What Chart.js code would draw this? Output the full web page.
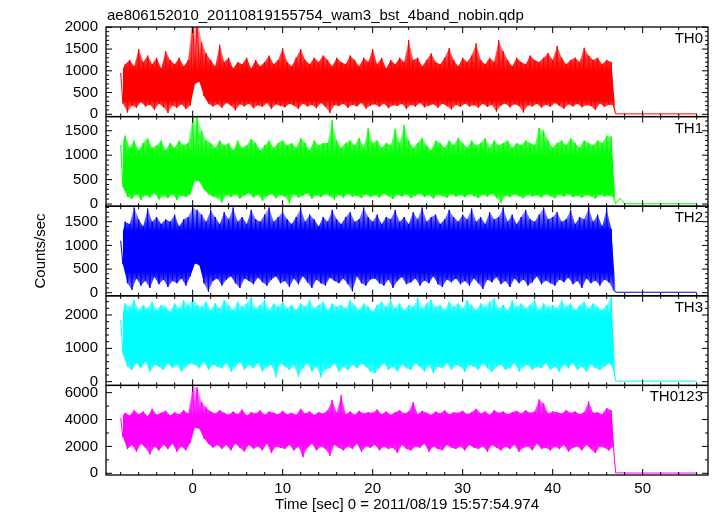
<!DOCTYPE html>
<html>
<head>
<meta charset="utf-8">
<script src="https://cdn.jsdelivr.net/npm/chart.js@4.4.0/dist/chart.umd.min.js"></script>
<style>
html, body { margin: 0; padding: 0; background: #fff; }
#wrap { width: 717px; height: 516px; }
</style>
</head>
<body>
<div id="wrap"><canvas id="lc" width="717" height="516"></canvas></div>
<script>
var fileTitle = "ae806152010_20110819155754_wam3_bst_4band_nobin.qdp";
var xTitle = "Time [sec] 0 = 2011/08/19 15:57:54.974";
var yTitle = "Counts/sec";
var bandNames = ["TH0", "TH1", "TH2", "TH3", "TH0123"];
var bandRGB = ["255,0,0", "0,255,0", "0,0,255", "0,255,255", "255,0,255"];

// time bins (sec): each bin keeps the highest and lowest rate seen in it
var binStart = -8.0;
var binStep = 0.5;
var xTickLabels = [0, 10, 20, 30, 40, 50];
var xMinor = 2;
var xRange = [-9.63, 57.26];

// y axes per panel
var yTicks = [[0, 500, 1000, 1500, 2000], [0, 500, 1000, 1500], [0, 500, 1000, 1500], [0, 1000, 2000], [0, 2000, 4000, 6000]];
var yMinor = [100, 100, 100, 200, 1000];
var yMin = [-53, -45, -65, -111, -127];
var yMax = [2007, 1790, 1828, 2576, 6540];

// where the dense part of each band sits (counts/sec)
var coreLo = [330, 250, 450, 650, 2300];
var coreHi = [980, 950, 1300, 2000, 4200];

var th0Hi = [950,1150,1250,1100,1500,1200,1350,1150,1300,1050,1450,1250,1150,1300,1100,1250,
  2300,2250,1650,1400,1250,1100,
  1600,1200,1300,1050,1200,1150,1300,1050,1250,1100,1200,1350,1150,1250,
  1520,1200,1100,1300,1500,1250,1150,1300,1200,1350,1250,1100,1300,1200,1150,1350,1250,1100,1300,1200,
  1500,1150,1300,1050,1250,1150,1300,1200,1710,1250,1300,1100,1250,1400,1200,1150,1300,1520,1250,1100,
  1300,1200,1350,1630,1250,1150,1300,1200,1710,1450,1250,1100,1300,1200,1150,1350,1250,1200,1300,1410,
  1250,1570,1300,1150,1250,1300,1200,1530,1350,1250,1300,1150,1250,1200];
var th0Lo = [250,40,200,150,280,180,220,100,250,160,30,200,150,230,120,200,
  700,750,420,250,180,230,
  150,260,200,90,230,180,250,140,210,170,260,120,230,190,
  160,240,200,120,250,180,220,140,260,170,30,210,190,240,150,220,180,260,130,200,
  230,170,250,140,210,190,240,120,220,180,260,160,200,230,150,240,190,110,220,170,
  250,180,210,150,240,170,220,60,200,250,160,230,190,40,210,180,240,150,220,170,
  260,190,130,230,180,240,160,210,190,100,250,170,220,200];

var th1Hi = [1210,1400,1150,1300,1100,1250,1350,1150,1200,1300,1100,1250,1150,1300,1200,1250,
  1780,1780,1500,1300,1250,1150,
  1300,1200,1250,1100,1300,1150,1200,1330,1250,1100,1200,1300,1150,1250,
  1300,1200,1250,1150,1350,1250,1100,1300,1200,1250,1250,1720,1300,1150,1250,1300,1200,1350,1150,1550,
  1250,1300,1150,1250,1200,1540,1250,1620,1300,1150,1250,1350,1200,1100,1300,1250,1150,1300,1200,1350,
  1250,1150,1300,1200,1250,1350,1150,1300,1200,1250,1300,1150,1250,1200,1300,1250,1200,1560,1500,1300,
  1150,1250,1300,1200,1350,1250,1150,1300,1250,1200,1300,1250,1400,1380];
var th1Lo = [350,150,100,200,80,180,130,220,90,160,120,200,80,170,140,200,
  480,460,300,200,150,120,
  30,180,140,200,110,170,220,130,190,60,160,210,120,180,
  150,10,200,130,170,220,110,180,140,200,160,90,190,130,210,150,170,120,200,140,
  180,130,210,160,100,190,150,200,120,170,210,140,180,110,190,160,130,200,150,180,
  140,200,160,120,190,150,210,130,20,170,140,200,160,120,190,150,180,130,200,160,
  120,190,150,200,140,170,130,180,160,110,190,150,170,140];

var th2Hi = [1100,1500,1450,1800,1550,1400,1780,1500,1600,1450,1550,1500,1650,1400,1550,1600,
  1800,1750,1650,1500,1750,1600,
  1450,1700,1550,1800,1500,1600,1450,1750,1550,1500,1650,1800,1500,1600,
  1700,1550,1450,1600,1780,1500,1650,1550,1400,1600,1500,1750,1550,1450,1600,1700,1500,1550,1800,1600,
  1500,1650,1450,1600,1550,1750,1500,1600,1450,1700,1550,1800,1500,1600,1650,1450,1550,1750,1600,1500,
  1650,1550,1780,1500,1600,1450,1700,1550,1600,1800,1500,1650,1450,1600,1750,1550,1500,1650,1800,1550,
  1600,1700,1500,1550,1750,1450,1600,1550,1800,1500,1650,1400,1780,1350];
var th2Lo = [600,200,60,300,150,250,100,330,180,280,120,250,200,300,150,350,
  620,580,200,20,250,300,
  150,280,350,200,100,300,250,180,320,220,150,280,350,200,
  250,120,300,180,350,220,100,280,200,150,320,250,200,300,180,30,350,200,150,280,
  300,200,150,280,100,250,330,180,220,300,150,260,200,350,180,120,280,220,300,180,
  250,150,300,200,80,280,220,330,180,250,120,300,200,280,150,220,350,180,260,200,
  150,280,220,320,180,250,100,300,200,260,150,280,220,60];

var th3Hi = [1850,2350,2250,2450,2150,2300,2200,2400,2150,2300,2250,2100,2350,2200,2450,2300,
  2500,2300,2250,2400,2150,2350,
  2200,2450,2300,2150,2400,2250,2350,2530,2200,2300,2450,2150,2350,2250,
  2400,2200,2300,2150,2350,2250,2450,2200,2300,2400,2150,2350,2250,2300,2200,2450,2300,2150,2350,2250,
  2100,2300,2400,2250,2450,2200,2350,2150,2300,2250,2530,2200,2350,2450,2250,2300,2150,2400,2250,2350,
  2200,2450,2300,2150,2350,2250,2400,2500,2200,2300,2150,2450,2250,2350,2200,2300,2450,2150,2350,2250,
  2300,2200,2450,2250,2350,2150,2300,2400,2200,2350,2250,2150,2300,2530];
var th3Lo = [830,450,350,550,400,600,300,500,450,350,550,400,500,300,450,550,
  500,400,600,350,500,450,
  400,550,300,450,600,350,500,400,550,300,450,500,130,550,
  450,350,500,150,400,550,300,450,130,350,400,550,300,450,350,500,400,550,450,300,
  250,400,550,350,450,300,500,400,350,550,450,300,500,250,450,400,550,350,500,450,
  300,500,450,350,550,400,300,450,500,350,400,550,300,450,500,350,450,400,550,350,
  450,300,500,400,550,350,450,300,500,400,350,450,550,400];

var th0123Hi = [4100,4500,4300,4700,4400,4600,4250,4800,4350,4500,4650,4300,4550,4400,4700,4450,
  6450,6400,5300,4900,4600,4450,
  4700,4500,4350,4600,4400,4750,4300,4550,4450,4700,4350,4600,4500,4400,
  4650,4400,4500,4350,4800,4450,4600,4350,4550,4450,4700,5460,4500,5830,4400,4600,4350,4650,4450,4550,
  4500,4750,4400,4600,4350,4550,4700,4450,4600,5300,4400,4650,4500,4350,4600,4450,4700,4400,4550,4500,
  4650,4400,4550,4800,4450,4600,4350,4700,4500,4600,4400,4550,4650,4450,4700,4500,4600,5500,5200,4450,
  4600,4550,4450,4700,4500,4600,4400,4550,5350,4500,4550,4400,4850,4700];
var th0123Lo = [2700,1800,2100,1600,2200,1900,1400,2000,1700,2100,1800,2200,1600,2000,1700,2300,
  3400,3300,2600,2200,1900,2100,
  1800,2100,1700,2200,1900,1600,2100,1800,2000,1700,2200,1500,2000,1900,
  1800,2100,1700,2000,1200,1900,2200,1700,2000,1800,1300,2100,1900,1700,2000,1800,2200,1600,2000,1900,
  2100,1700,2000,1800,1900,1500,2100,1800,1700,2000,1900,2200,1600,2000,1800,1700,2100,1900,1800,2000,
  1700,2100,1900,1800,2000,1600,2100,1900,1700,2000,1800,2100,1600,1900,2000,1700,2200,1800,1900,1700,
  2000,1800,2100,1600,1900,2000,1700,2100,1800,1500,2000,1900,1700,2000];

// after the data gap the rates sit near zero
var tailTimes = [47.0, 47.5, 48.0, 56.0];
var tailRates = [[10, 10, 10, 10], [5, 120, 5, 5], [10, 10, 10, 10], [15, 15, 15, 15], [20, 40, 20, 20]];

var bandHi = [th0Hi, th1Hi, th2Hi, th3Hi, th0123Hi];
var bandLo = [th0Lo, th1Lo, th2Lo, th3Lo, th0123Lo];

var font15 = { family: '"Liberation Sans", Arial, sans-serif', size: 15 };

function addTail(p, pts) {
    for (var k = 0; k < tailTimes.length; k++) {
        pts.push({ x: tailTimes[k], y: tailRates[p][k] });
    }
    return pts;
}

// max at the start of each bin, min a quarter bin later
function zigzag(p) {
    var pts = [];
    for (var i = 0; i < bandHi[p].length; i++) {
        var t = binStart + i * binStep;
        pts.push({ x: t, y: bandHi[p][i] });
        pts.push({ x: t + binStep / 2, y: bandLo[p][i] });
    }
    return addTail(p, pts);
}

function edge(p, rates, shift) {
    var pts = [];
    for (var i = 0; i < rates.length; i++) {
        pts.push({ x: binStart + i * binStep + shift, y: rates[i] });
    }
    return addTail(p, pts);
}

// solid in the dense core, paler toward the spikes
function bandFill(p) {
    return function (c) {
        var chart = c.chart, ys = chart.scales['y' + p];
        var solid = 'rgb(' + bandRGB[p] + ')';
        if (!ys || !(ys.bottom > ys.top)) return solid;
        var h = ys.bottom - ys.top;
        var fHi = Math.min(Math.max((ys.getPixelForValue(coreHi[p]) - ys.top) / h, 0), 1);
        var fLo = Math.min(Math.max((ys.getPixelForValue(coreLo[p]) - ys.top) / h, 0), 1);
        var g = chart.ctx.createLinearGradient(0, ys.top, 0, ys.bottom);
        g.addColorStop(0, 'rgba(' + bandRGB[p] + ',0.25)');
        g.addColorStop(fHi, solid);
        g.addColorStop(fLo, solid);
        g.addColorStop(1, 'rgba(' + bandRGB[p] + ',0.3)');
        return g;
    };
}

function fixTicks(p) {
    return function (scale) {
        scale.ticks = yTicks[p].map(function (v) { return { value: v }; });
    };
}

var datasets = [];
var scales = {
    x: {
        type: 'linear',
        min: xRange[0],
        max: xRange[1],
        grid: { display: false, drawTicks: false },
        border: { display: false },
        ticks: {
            color: '#000', font: font15, padding: 5, maxRotation: 0, autoSkip: false,
            callback: function (v) { return String(v); }
        },
        afterBuildTicks: function (scale) {
            scale.ticks = xTickLabels.map(function (v) { return { value: v }; });
        },
        afterFit: function (scale) { scale.height = 41; },
        title: { display: true, text: xTitle, color: '#000', font: font15, padding: { top: 0, bottom: 2 } }
    }
};

for (var p = 0; p < bandNames.length; p++) {
    // thin light curve on top
    datasets.push({
        label: bandNames[p],
        data: zigzag(p),
        xAxisID: 'x',
        yAxisID: 'y' + p,
        borderColor: 'rgb(' + bandRGB[p] + ')',
        borderWidth: 1,
        pointRadius: 0,
        tension: 0,
        fill: false,
        order: 0
    });
    // band between the bin max and bin min
    datasets.push({
        label: bandNames[p] + ' max',
        data: edge(p, bandHi[p], 0),
        xAxisID: 'x',
        yAxisID: 'y' + p,
        borderWidth: 0,
        borderColor: 'rgba(0,0,0,0)',
        backgroundColor: bandFill(p),
        pointRadius: 0,
        tension: 0,
        fill: '+1',
        order: 1
    });
    datasets.push({
        label: bandNames[p] + ' min',
        data: edge(p, bandLo[p], binStep / 2),
        xAxisID: 'x',
        yAxisID: 'y' + p,
        borderWidth: 0,
        borderColor: 'rgba(0,0,0,0)',
        pointRadius: 0,
        tension: 0,
        fill: false,
        order: 1
    });
    scales['y' + p] = {
        type: 'linear',
        position: 'left',
        stack: 'panels',
        stackWeight: 1,
        weight: bandNames.length - p,
        min: yMin[p],
        max: yMax[p],
        grid: { display: false, drawTicks: false },
        border: { display: false },
        ticks: {
            color: '#000', font: font15, padding: 8, autoSkip: false,
            callback: function (v) { return String(v); }
        },
        afterBuildTicks: fixTicks(p),
        afterFit: function (scale) { scale.width = 106; },
        title: { display: p === 2, text: yTitle, color: '#000', font: font15, padding: { top: 32, bottom: 0 } }
    };
}

// frames, inward tick marks, panel names and file title (QDP look)
var qdpFrames = {
    id: 'qdpFrames',
    afterDraw: function (chart) {
        var ctx = chart.ctx, area = chart.chartArea, xs = chart.scales.x;
        ctx.save();
        ctx.strokeStyle = '#000';
        for (var p = 0; p < bandNames.length; p++) {
            var ys = chart.scales['y' + p];
            var top = ys.top, bot = ys.bottom;
            ctx.lineWidth = 1.3;
            ctx.strokeRect(area.left, top, area.right - area.left, bot - top);
            ctx.lineWidth = 1;
            ctx.beginPath();
            var v, len;
            for (v = Math.ceil(ys.min / yMinor[p]) * yMinor[p]; v <= ys.max; v += yMinor[p]) {
                var py = ys.getPixelForValue(v);
                len = yTicks[p].indexOf(v) >= 0 ? 6 : 3;
                ctx.moveTo(area.left, py); ctx.lineTo(area.left + len, py);
                ctx.moveTo(area.right, py); ctx.lineTo(area.right - len, py);
            }
            for (v = Math.ceil(xs.min / xMinor) * xMinor; v <= xs.max; v += xMinor) {
                var px = xs.getPixelForValue(v);
                len = xTickLabels.indexOf(v) >= 0 ? 6 : 3;
                ctx.moveTo(px, top); ctx.lineTo(px, top + len);
                ctx.moveTo(px, bot); ctx.lineTo(px, bot - len);
            }
            ctx.stroke();
            ctx.fillStyle = '#000';
            ctx.font = '15px "Liberation Sans", Arial, sans-serif';
            ctx.textAlign = 'right';
            ctx.textBaseline = 'alphabetic';
            ctx.fillText(bandNames[p], area.right - 5, top + 16);
        }
        ctx.textAlign = 'left';
        ctx.fillText(fileTitle, area.left + 1, 20);
        ctx.restore();
    }
};

new Chart(document.getElementById('lc'), {
    type: 'line',
    data: { datasets: datasets },
    options: {
        responsive: false,
        animation: false,
        layout: { padding: { left: 0, right: 9, top: 27, bottom: 0 } },
        plugins: { legend: { display: false }, tooltip: { enabled: false } },
        scales: scales
    },
    plugins: [qdpFrames]
});
</script>
</body>
</html>
